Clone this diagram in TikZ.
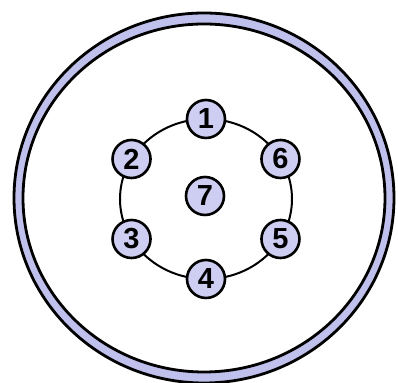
\documentclass[tikz,border=0pt]{standalone}
\usepackage{fontspec}
\setmainfont{Liberation Sans}
\definecolor{pinblue}{RGB}{206,206,242}
\definecolor{rimblue}{RGB}{192,192,236}

\begin{document}
\begin{tikzpicture}[x=0.5pt, y=-0.5pt,
    every node/.style={font=\fontsize{14.5}{14.5}\selectfont\bfseries},
    pin/.style={draw, circle, line width=1.3pt, fill=pinblue, minimum size=19pt, inner sep=0pt}
]
\useasboundingbox (0,0) rectangle (398,383);

% Outer rim
\coordinate (c) at (204,198);
\fill[rimblue, even odd rule] (c) ellipse [x radius=190, y radius=185]
                              (c) ellipse [x radius=181, y radius=174];
\draw[line width=1.4pt] (c) ellipse [x radius=190, y radius=185];
\draw[line width=1.4pt] (c) ellipse [x radius=181, y radius=174];

% Pin ring
\coordinate (r) at (206,199);
\draw[line width=1pt] (r) ellipse [x radius=86, y radius=80];

% Pins
\foreach \n/\a in {1/-90, 2/-150, 3/150, 4/90, 5/30, 6/-30}
  \node[pin] (p\n) at ([shift={(\a:86 and 80)}]r) {\n};
\node[pin] (p7) at (205,196) {7};

\end{tikzpicture}
\end{document}
